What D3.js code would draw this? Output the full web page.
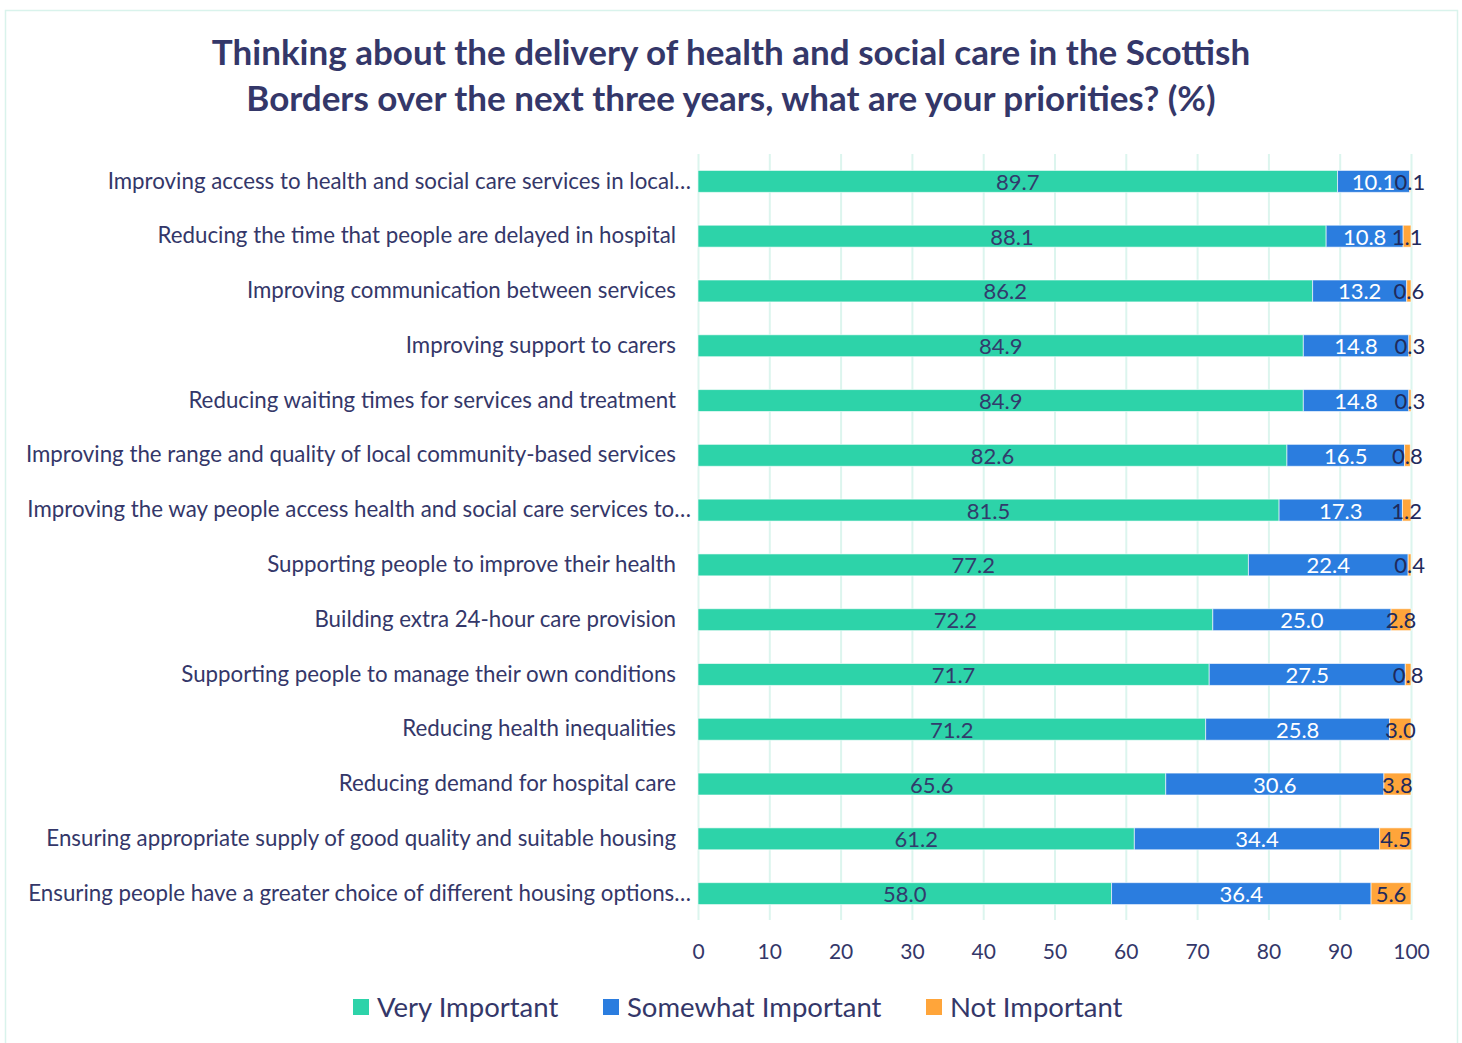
<!DOCTYPE html>
<html>
<head>
<meta charset="utf-8">
<script src="https://cdn.jsdelivr.net/npm/d3@7"></script>
<style>
  body { margin: 0; background: #fff; }
  svg text { font-family: Lato, "Open Sans", sans-serif; }
</style>
</head>
<body>
<div id="svg-container"></div>
<script>
////////////////////////////////////////////////////////////////////
////////////////////////////  Data  ////////////////////////////////
const categories = [
  "Improving access to health and social care services in local…",
  "Reducing the time that people are delayed in hospital",
  "Improving communication between services",
  "Improving support to carers",
  "Reducing waiting times for services and treatment",
  "Improving the range and quality of local community-based services",
  "Improving the way people access health and social care services to…",
  "Supporting people to improve their health",
  "Building extra 24-hour care provision",
  "Supporting people to manage their own conditions",
  "Reducing health inequalities",
  "Reducing demand for hospital care",
  "Ensuring appropriate supply of good quality and suitable housing",
  "Ensuring people have a greater choice of different housing options…"
];
const veryImportant = [89.7, 88.1, 86.2, 84.9, 84.9, 82.6, 81.5, 77.2, 72.2, 71.7, 71.2, 65.6, 61.2, 58.0];
const somewhatImportant = [10.1, 10.8, 13.2, 14.8, 14.8, 16.5, 17.3, 22.4, 25.0, 27.5, 25.8, 30.6, 34.4, 36.4];
const notImportant = [0.1, 1.1, 0.6, 0.3, 0.3, 0.8, 1.2, 0.4, 2.8, 0.8, 3.0, 3.8, 4.5, 5.6];
const seriesNames = ["Very Important", "Somewhat Important", "Not Important"];
const xTicks = [0, 10, 20, 30, 40, 50, 60, 70, 80, 90, 100];

////////////////////////////////////////////////////////////////////
////////////////////////////  Init  ////////////////////////////////
const width = 1462, height = 1043;
const margin = { top: 154, right: 51, bottom: 123, left: 698 };
const colors = ["#2dd3a9", "#2b7ddf", "#ffa53a"];
const labelColors = ["#323b6c", "#ffffff", "#1f2a5c"];
const navy = "#343769";
const gridColor = "#dcf5ee";

const svg = d3.select("#svg-container").append("svg")
  .attr("width", width).attr("height", height);

// frame
svg.append("rect")
  .attr("x", 5.5).attr("y", 10.5)
  .attr("width", 1452).attr("height", 1040)
  .attr("fill", "none").attr("stroke", "#d9f3ec").attr("stroke-width", 1.5);

// title
const title = svg.append("text")
  .attr("text-anchor", "middle")
  .attr("fill", navy)
  .attr("font-size", 35)
  .attr("font-weight", 700);
title.append("tspan").attr("x", 731).attr("y", 65)
  .text("Thinking about the delivery of health and social care in the Scottish");
title.append("tspan").attr("x", 731).attr("y", 111)
  .text("Borders over the next three years, what are your priorities? (%)");

// scales
const xScale = d3.scaleLinear().domain([0, 100])
  .range([margin.left, 1411]);
const yScale = d3.scaleBand().domain(categories)
  .range([margin.top, 921])
  .paddingInner(0.6).paddingOuter(0.3);

// gridlines + ticks
const xAxis = d3.axisBottom(xScale)
  .tickValues(xTicks)
  .tickSize(-(height - margin.bottom - margin.top))
  .tickPadding(24);

const gx = svg.append("g")
  .attr("class", "x-axis")
  .attr("transform", `translate(0,${height - margin.bottom})`)
  .call(xAxis);
gx.select(".domain").remove();
gx.selectAll(".tick line").attr("stroke", gridColor).attr("stroke-width", 2);
gx.selectAll(".tick text")
  .attr("fill", navy).attr("font-size", 21)
  .style("font-family", "Lato, sans-serif");

// stacked data
const rows = categories.map((c, i) => ({
  cat: c, vals: [veryImportant[i], somewhatImportant[i], notImportant[i]]
}));
const stack = d3.stack().keys([0, 1, 2]).value((d, k) => d.vals[k]);
const stacked = stack(rows);

const layers = svg.append("g").selectAll("g")
  .data(stacked)
  .join("g")
  .attr("fill", (d, i) => colors[i]);

layers.selectAll("rect")
  .data(d => d)
  .join("rect")
  .attr("x", d => xScale(d[0]))
  .attr("y", d => yScale(d.data.cat))
  .attr("width", d => xScale(d[1]) - xScale(d[0]))
  .attr("height", yScale.bandwidth())
  .attr("stroke", "#ffffff")
  .attr("stroke-opacity", 0.6)
  .attr("stroke-width", 1);

// data labels
stacked.forEach((layer, i) => {
  svg.append("g").selectAll("text")
    .data(layer)
    .join("text")
    .attr("x", d => xScale((d[0] + d[1]) / 2))
    .attr("y", d => yScale(d.data.cat) + yScale.bandwidth() / 2)
    .attr("text-anchor", "middle")
    .attr("dominant-baseline", "central")
    .attr("fill", labelColors[i])
    .attr("font-size", 22)
    .text(d => d3.format(".1f")(d[1] - d[0]));
});

// category labels
const yAxis = d3.axisLeft(yScale).tickSize(0).tickPadding(22);
const gy = svg.append("g")
  .attr("class", "y-axis")
  .attr("transform", `translate(${margin.left},0)`)
  .call(yAxis);
gy.select(".domain").remove();
gy.selectAll(".tick text")
  .attr("fill", navy).attr("font-size", 22.3)
  .style("font-family", "Lato, sans-serif")
  .attr("x", d => d.endsWith("…") ? -7 : -22);

// legend
const legendX = [353, 603, 926];
const legend = svg.append("g").selectAll("g")
  .data(seriesNames)
  .join("g")
  .attr("transform", (d, i) => `translate(${legendX[i]},999)`);
legend.append("rect")
  .attr("width", 16).attr("height", 16)
  .attr("fill", (d, i) => colors[i]);
legend.append("text")
  .attr("x", 24).attr("y", 7)
  .attr("dominant-baseline", "central")
  .attr("fill", navy).attr("font-size", 27.5)
  .text(d => d);
</script>
</body>
</html>
